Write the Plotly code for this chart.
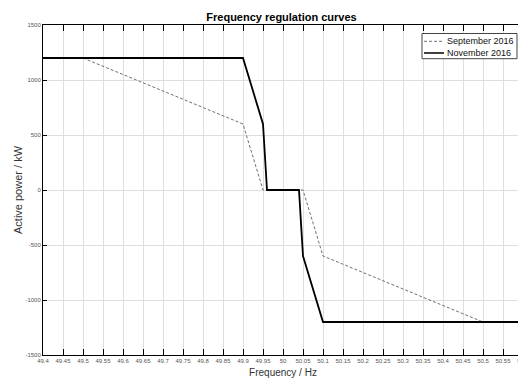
import plotly.graph_objects as go

# Data
sep_f = [49.4, 49.5, 49.9, 49.95, 50.05, 50.1, 50.5, 50.6]
sep_p = [1200, 1200, 600, 0, 0, -600, -1200, -1200]
nov_f = [49.4, 49.9, 49.95, 49.96, 50.04, 50.05, 50.1, 50.6]
nov_p = [1200, 1200, 600, 0, 0, -600, -1200, -1200]

x_ticks = [round(49.4 + 0.05 * i, 2) for i in range(25)]
x_labels = ["49.4", "49.45", "49.5", "49.55", "49.6", "49.65", "49.7", "49.75", "49.8",
            "49.85", "49.9", "49.95", "50", "50.05", "50.1", "50.15", "50.2", "50.25",
            "50.3", "50.35", "50.4", "50.45", "50.5", "50.55", "50.6"]
y_ticks = [-1500, -1000, -500, 0, 500, 1000, 1500]
y_labels = ["-1500", "-1000", "-500", "0", "500", "1000", "1500"]
series_names = ["September 2016", "November 2016"]

font = "Liberation Sans, Arial, sans-serif"
sep_line = dict(color="#707070", width=1, dash="3px,2px")
nov_line = dict(color="black", width=1.8)

fig = go.Figure()
fig.add_trace(go.Scatter(x=sep_f, y=sep_p, mode="lines", name=series_names[0],
                         line=sep_line, showlegend=False))
fig.add_trace(go.Scatter(x=nov_f, y=nov_p, mode="lines", name=series_names[1],
                         line=nov_line, showlegend=False))

axis_common = dict(showline=True, linecolor="black", linewidth=1, mirror="allticks",
                   ticks="inside", tickcolor="black", showgrid=True,
                   gridcolor="#dedede", gridwidth=1, zeroline=False,
                   ticklabeloverflow="allow", automargin=False,
                   tickfont=dict(family=font, size=6, color="#555555"))

fig.update_xaxes(range=[49.4, 50.6], tickmode="array", tickvals=x_ticks, ticktext=x_labels,
                 ticklen=6, tickangle=0,
                 title=dict(text="Frequency / Hz", font=dict(family=font, size=10, color="#333333"),
                            standoff=6),
                 **axis_common)
fig.update_yaxes(range=[-1500, 1500], tickmode="array", tickvals=y_ticks, ticktext=y_labels,
                 ticklen=4,
                 title=dict(text="Active power / kW", font=dict(family=font, size=11, color="#333333"),
                            standoff=0),
                 **axis_common)

# Manual compact legend (box, line samples, labels)
lx0, lx1, ly0, ly1 = 0.7896, 0.9875, 0.8979, 0.9742
fig.add_shape(type="rect", xref="paper", yref="paper", x0=lx0, x1=lx1, y0=ly0, y1=ly1,
              line=dict(color="#444444", width=1), fillcolor="white", layer="above")
rows_y = [0.9506, 0.9152]
for yy, nm, ln in zip(rows_y, series_names, [sep_line, dict(color="black", width=1.5)]):
    fig.add_shape(type="line", xref="paper", yref="paper", x0=0.7938, x1=0.8354, y0=yy, y1=yy,
                  line=ln, layer="above")
    fig.add_annotation(xref="paper", yref="paper", x=0.8375, y=yy, text=nm, showarrow=False,
                       xanchor="left", yanchor="middle",
                       font=dict(family=font, size=9, color="#111111"))

fig.update_layout(
    width=518, height=370,
    margin=dict(l=35, r=3, t=17, b=23),
    paper_bgcolor="white", plot_bgcolor="white",
    title=dict(text="<b>Frequency regulation curves</b>", x=0.528, xanchor="center",
               y=0.9765, yanchor="middle", font=dict(family=font, size=11, color="black")),
    showlegend=False,
)

fig.write_html("out.html")
